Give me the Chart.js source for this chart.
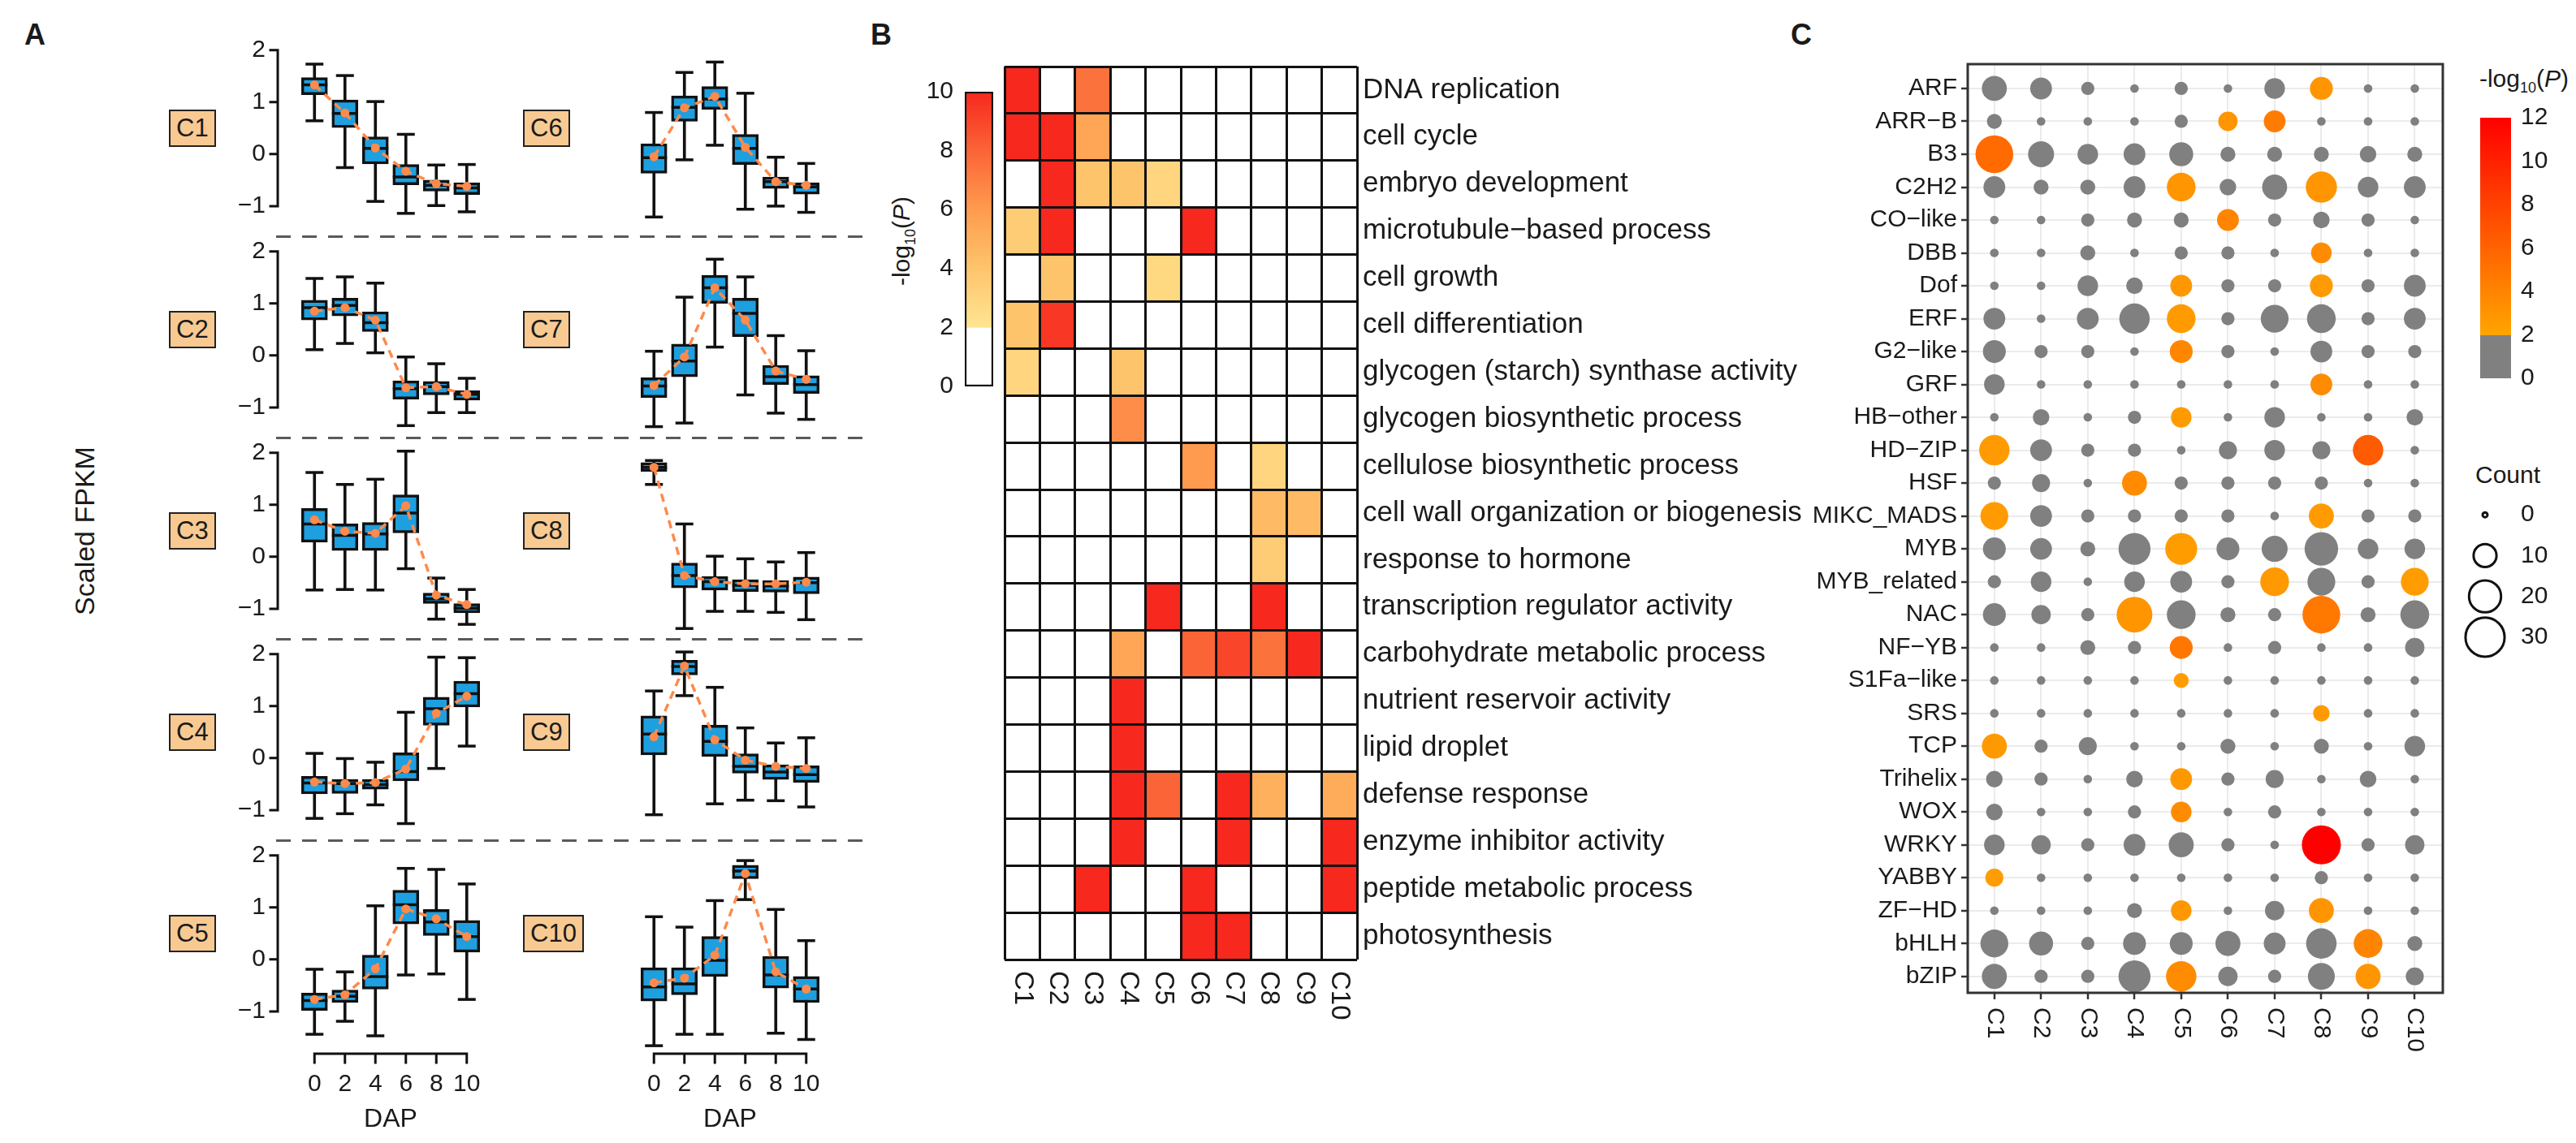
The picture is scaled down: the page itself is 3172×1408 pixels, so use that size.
<!DOCTYPE html>
<html lang="en">
<head>
<meta charset="UTF-8">
<title>Expression clusters, GO enrichment and TF families</title>
<script src="https://cdn.jsdelivr.net/npm/chart.js"></script>
<style>
  body { margin: 0; width: 3172px; height: 1408px; position: relative; overflow: hidden; background: #fff;
         font-family: "Liberation Sans", Arial, sans-serif; color: #1a1a1a; }
  canvas { position: absolute; }
  .txt { position: absolute; white-space: nowrap; }
  .panel { font-weight: bold; font-size: 36px; }
  .centre { transform: translate(-50%, -50%); }
  .vert { transform: translate(-50%, -50%) rotate(-90deg); }
  .clabel { position: absolute; transform: translateY(-50%); font-size: 31px; line-height: 36px;
            padding: 3px 7px; border: 2.5px solid #222; background: #f8ca92; }
  .dash { position: absolute; height: 3px;
          background: repeating-linear-gradient(to right, #5a5a5a 0 18px, transparent 18px 32px); }
  sub { font-size: 0.6em; }
</style>
</head>
<body>
<div class="txt panel" style="left:30px;top:22px">A</div>
<div class="txt panel" style="left:1072px;top:22px">B</div>
<div class="txt panel" style="left:2205px;top:22px">C</div>
<div class="txt vert" style="left:104px;top:654px;font-size:34px">Scaled FPKM</div>
<div class="txt vert" style="left:1112px;top:297px;font-size:30px">-log<sub>10</sub>(<i>P</i>)</div>
<div class="txt centre" style="left:3108px;top:99px;font-size:30px">-log<sub>10</sub>(<i>P</i>)</div>
<div class="txt centre" style="left:3088px;top:585px;font-size:30px">Count</div>

<script>
// ---------- panel A: scaled FPKM per cluster ----------
const dap = [0, 2, 4, 6, 8, 10];
const clusterNames = ['C1', 'C2', 'C3', 'C4', 'C5', 'C6', 'C7', 'C8', 'C9', 'C10'];
const yTickValues = [-1, 0, 1, 2];

// one row per cluster, one column per DAP
const whiskerLow = [
  [0.64, -0.26, -0.91, -1.14, -0.99, -1.11],
  [0.11, 0.23, 0.05, -1.35, -1.10, -1.10],
  [-0.64, -0.63, -0.64, -0.23, -1.20, -1.30],
  [-1.16, -1.07, -0.90, -1.26, -0.20, 0.23],
  [-1.44, -1.19, -1.47, -0.30, -0.28, -0.77],
  [-1.21, -0.11, 0.17, -1.06, -1.00, -1.12],
  [-1.37, -1.30, 0.16, -0.76, -1.11, -1.23],
  [1.39, -1.38, -1.05, -1.05, -1.07, -1.21],
  [-1.09, 1.20, -0.88, -0.81, -0.82, -0.94],
  [-1.66, -1.44, -1.44, 1.15, -1.42, -1.54]
];
const boxLow = [
  [1.14, 0.51, -0.19, -0.59, -0.71, -0.78],
  [0.68, 0.76, 0.46, -0.84, -0.76, -0.86],
  [0.28, 0.12, 0.12, 0.46, -0.90, -1.08],
  [-0.69, -0.68, -0.60, -0.44, 0.63, 0.98],
  [-0.98, -0.83, -0.57, 0.68, 0.46, 0.14],
  [-0.37, 0.63, 0.86, -0.20, -0.66, -0.77],
  [-0.81, -0.41, 1.00, 0.36, -0.56, -0.73],
  [1.64, -0.60, -0.64, -0.67, -0.68, -0.71],
  [0.06, 1.60, 0.03, -0.29, -0.41, -0.47],
  [-0.80, -0.68, -0.33, 1.55, -0.55, -0.83]
];
const boxMedian = [
  [1.33, 0.78, 0.11, -0.44, -0.60, -0.65],
  [0.92, 0.96, 0.63, -0.64, -0.60, -0.75],
  [0.63, 0.41, 0.44, 0.84, -0.81, -0.99],
  [-0.48, -0.49, -0.51, -0.26, 0.95, 1.24],
  [-0.79, -0.71, -0.33, 1.05, 0.72, 0.44],
  [-0.07, 0.90, 1.06, 0.11, -0.53, -0.63],
  [-0.59, -0.11, 1.30, 0.81, -0.41, -0.56],
  [1.72, -0.36, -0.48, -0.55, -0.56, -0.50],
  [0.46, 1.76, 0.32, -0.16, -0.27, -0.32],
  [-0.53, -0.47, -0.02, 1.70, -0.30, -0.57]
];
const boxHigh = [
  [1.47, 1.04, 0.33, -0.20, -0.50, -0.55],
  [1.06, 1.10, 0.84, -0.49, -0.50, -0.68],
  [0.93, 0.63, 0.66, 1.19, -0.70, -0.90],
  [-0.35, -0.41, -0.41, 0.10, 1.17, 1.48],
  [-0.65, -0.59, 0.08, 1.33, 0.96, 0.75],
  [0.20, 1.12, 1.30, 0.38, -0.44, -0.55],
  [-0.43, 0.22, 1.54, 1.10, -0.19, -0.39],
  [1.81, -0.12, -0.38, -0.44, -0.46, -0.39],
  [0.81, 1.88, 0.63, 0.08, -0.13, -0.15],
  [-0.16, -0.16, 0.44, 1.81, 0.06, -0.33]
];
const whiskerHigh = [
  [1.73, 1.51, 1.01, 0.38, -0.21, -0.20],
  [1.48, 1.51, 1.39, -0.03, -0.16, -0.44],
  [1.62, 1.39, 1.49, 2.03, -0.41, -0.63],
  [0.09, -0.01, -0.08, 0.88, 1.94, 1.93],
  [-0.19, -0.24, 1.03, 1.75, 1.73, 1.45],
  [0.80, 1.57, 1.77, 1.17, -0.06, -0.18],
  [0.08, 1.12, 1.85, 1.51, 0.38, 0.09],
  [1.85, 0.63, 0.01, -0.04, -0.10, 0.08],
  [1.29, 2.04, 1.36, 0.58, 0.29, 0.39],
  [0.82, 0.62, 1.13, 1.90, 0.96, 0.36]
];
const clusterMean = [
  [1.33, 0.79, 0.12, -0.33, -0.57, -0.62],
  [0.85, 0.92, 0.68, -0.62, -0.60, -0.75],
  [0.71, 0.49, 0.45, 0.98, -0.74, -0.92],
  [-0.46, -0.49, -0.47, -0.21, 0.86, 1.19],
  [-0.77, -0.68, -0.18, 0.97, 0.78, 0.44],
  [-0.05, 0.89, 1.11, 0.13, -0.53, -0.60],
  [-0.58, -0.03, 1.30, 0.68, -0.30, -0.46],
  [1.72, -0.36, -0.48, -0.52, -0.52, -0.49],
  [0.41, 1.77, 0.35, -0.04, -0.16, -0.20],
  [-0.45, -0.36, 0.08, 1.65, -0.24, -0.57]
];

// ---------- panel B: GO enrichment, -log10(P) ----------
const goTerms = [
  'DNA replication', 'cell cycle', 'embryo development', 'microtubule\u2212based process',
  'cell growth', 'cell differentiation', 'glycogen (starch) synthase activity',
  'glycogen biosynthetic process', 'cellulose biosynthetic process',
  'cell wall organization or biogenesis', 'response to hormone',
  'transcription regulator activity', 'carbohydrate metabolic process',
  'nutrient reservoir activity', 'lipid droplet', 'defense response',
  'enzyme inhibitor activity', 'peptide metabolic process', 'photosynthesis'
];
const goValues = [
  [10, 0, 7.5, 0, 0, 0, 0, 0, 0, 0],
  [10, 10, 5.5, 0, 0, 0, 0, 0, 0, 0],
  [0, 10, 4, 4, 3, 0, 0, 0, 0, 0],
  [3.5, 10, 0, 0, 0, 10, 0, 0, 0, 0],
  [0, 4, 0, 0, 2.8, 0, 0, 0, 0, 0],
  [4, 9.5, 0, 0, 0, 0, 0, 0, 0, 0],
  [3, 0, 0, 4, 0, 0, 0, 0, 0, 0],
  [0, 0, 0, 6.5, 0, 0, 0, 0, 0, 0],
  [0, 0, 0, 0, 0, 6, 0, 3, 0, 0],
  [0, 0, 0, 0, 0, 0, 0, 4.5, 4.5, 0],
  [0, 0, 0, 0, 0, 0, 0, 3.5, 0, 0],
  [0, 0, 0, 0, 10, 0, 0, 10, 0, 0],
  [0, 0, 0, 5.5, 0, 8, 9, 7.5, 10, 0],
  [0, 0, 0, 10, 0, 0, 0, 0, 0, 0],
  [0, 0, 0, 10, 0, 0, 0, 0, 0, 0],
  [0, 0, 0, 10, 8, 0, 10, 5, 0, 5.2],
  [0, 0, 0, 10, 0, 0, 10, 0, 0, 10],
  [0, 0, 10, 0, 0, 10, 0, 0, 0, 10],
  [0, 0, 0, 0, 0, 10, 10, 0, 0, 0]
];
const heatTicks = [0, 2, 4, 6, 8, 10];

// ---------- panel C: TF families ----------
const tfFamilies = [
  'ARF', 'ARR\u2212B', 'B3', 'C2H2', 'CO\u2212like', 'DBB', 'Dof', 'ERF', 'G2\u2212like', 'GRF',
  'HB\u2212other', 'HD\u2212ZIP', 'HSF', 'MIKC_MADS', 'MYB', 'MYB_related', 'NAC', 'NF\u2212YB',
  'S1Fa\u2212like', 'SRS', 'TCP', 'Trihelix', 'WOX', 'WRKY', 'YABBY', 'ZF\u2212HD', 'bHLH', 'bZIP'
];
const tfCount = [
  [12, 9, 3, 1, 3, 1, 8, 10, 1, 1],
  [4, 1, 1, 1, 3, 7, 9, 1, 1, 1],
  [28, 13, 8, 9, 11, 4, 4, 4, 5, 4],
  [9, 4, 4, 9, 16, 5, 12, 19, 8, 9],
  [1, 1, 3, 4, 4, 9, 3, 5, 3, 1],
  [1, 1, 4, 1, 3, 3, 1, 8, 1, 1],
  [1, 1, 8, 5, 9, 3, 3, 10, 3, 9],
  [9, 1, 9, 18, 16, 3, 15, 16, 3, 9],
  [10, 3, 3, 1, 10, 3, 1, 9, 3, 3],
  [8, 1, 1, 1, 1, 1, 1, 9, 1, 1],
  [1, 5, 1, 3, 8, 1, 8, 1, 1, 5],
  [18, 9, 3, 3, 1, 6, 8, 6, 18, 1],
  [3, 6, 1, 12, 3, 3, 3, 3, 1, 1],
  [15, 9, 3, 3, 3, 3, 1, 12, 3, 3],
  [10, 9, 4, 20, 20, 10, 13, 22, 8, 8],
  [3, 8, 1, 8, 9, 3, 16, 15, 3, 15],
  [10, 7, 3, 25, 16, 4, 3, 28, 4, 16],
  [1, 1, 4, 3, 10, 1, 3, 1, 1, 7],
  [1, 1, 1, 1, 4, 1, 1, 1, 1, 1],
  [1, 1, 1, 1, 1, 1, 1, 5, 1, 1],
  [12, 3, 6, 1, 1, 4, 1, 4, 1, 8],
  [5, 3, 1, 5, 9, 3, 6, 1, 5, 1],
  [5, 1, 1, 3, 8, 1, 3, 1, 1, 1],
  [8, 7, 3, 9, 12, 3, 1, 30, 3, 7],
  [6, 1, 1, 1, 1, 1, 1, 3, 1, 1],
  [1, 1, 1, 4, 8, 1, 7, 12, 1, 1],
  [15, 11, 3, 10, 10, 12, 9, 18, 16, 4],
  [12, 3, 3, 20, 18, 7, 3, 14, 12, 6]
];
const tfLogP = [
  [1, 1, 1, 1, 1, 1, 1, 3, 1, 1],
  [1, 1, 1, 1, 1, 3, 4.5, 1, 1, 1],
  [5.5, 1, 1, 1, 1, 1, 1, 1, 1, 1],
  [1, 1, 1, 1, 3, 1, 1, 3, 1, 1],
  [1, 1, 1, 1, 1, 4, 1, 1, 1, 1],
  [1, 1, 1, 1, 1, 1, 1, 3.5, 1, 1],
  [1, 1, 1, 1, 2.8, 1, 1, 2.6, 1, 1],
  [1, 1, 1, 1, 2.6, 1, 1, 1, 1, 1],
  [1, 1, 1, 1, 3.8, 1, 1, 1, 1, 1],
  [1, 1, 1, 1, 1, 1, 1, 3.6, 1, 1],
  [1, 1, 1, 1, 2.6, 1, 1, 1, 1, 1],
  [2.6, 1, 1, 1, 1, 1, 1, 1, 6.5, 1],
  [1, 1, 1, 3.5, 1, 1, 1, 1, 1, 1],
  [2.6, 1, 1, 1, 1, 1, 1, 2.6, 1, 1],
  [1, 1, 1, 1, 2.5, 1, 1, 1, 1, 1],
  [1, 1, 1, 1, 1, 1, 2.7, 1, 1, 2.5],
  [1, 1, 1, 3, 1, 1, 1, 4.7, 1, 1],
  [1, 1, 1, 1, 4.8, 1, 1, 1, 1, 1],
  [1, 1, 1, 1, 2.5, 1, 1, 1, 1, 1],
  [1, 1, 1, 1, 1, 1, 1, 2.6, 1, 1],
  [2.7, 1, 1, 1, 1, 1, 1, 1, 1, 1],
  [1, 1, 1, 1, 2.8, 1, 1, 1, 1, 1],
  [1, 1, 1, 1, 3.5, 1, 1, 1, 1, 1],
  [1, 1, 1, 1, 1, 1, 1, 12, 1, 1],
  [2.5, 1, 1, 1, 1, 1, 1, 1, 1, 1],
  [1, 1, 1, 1, 2.8, 1, 1, 3, 1, 1],
  [1, 1, 1, 1, 1, 1, 1, 1, 4, 1],
  [1, 1, 1, 1, 3.5, 1, 1, 1, 3, 1]
];
const tfTicks = [0, 2, 4, 6, 8, 10, 12];
const legendCounts = [0, 10, 20, 30];

// ---------- helpers ----------
Chart.defaults.font.family = '"Liberation Sans", Arial, sans-serif';
Chart.defaults.color = '#1a1a1a';
Chart.defaults.animation = false;
Chart.defaults.responsive = false;
Chart.defaults.events = [];
Chart.defaults.plugins.legend.display = false;
Chart.defaults.plugins.tooltip.enabled = false;

function addCanvas(left, top, width, height) {
  const c = document.createElement('canvas');
  c.width = width; c.height = height;
  c.style.left = left + 'px'; c.style.top = top + 'px';
  document.body.appendChild(c);
  return c;
}
function addDiv(cls, css, html) {
  const d = document.createElement('div');
  d.className = cls; d.style.cssText = css; d.innerHTML = html;
  document.body.appendChild(d);
}
const minus = v => (v < 0 ? '\u2212' + Math.abs(v) : String(v));

// fix an axis size and stop Chart.js from shrinking the plot to make room for end labels
function fitAxis(size) {
  return s => {
    if (s.isHorizontal()) s.height = size; else s.width = size;
    s.paddingTop = 0; s.paddingBottom = 0; s.paddingLeft = 0; s.paddingRight = 0;
  };
}

const heatStops = [[2, [255, 229, 145]], [4, [254, 196, 108]], [6, [254, 155, 78]], [8, [251, 100, 54]], [10, [247, 40, 30]]];
function heatColor(v) {
  if (v < 2) return '#ffffff';
  for (let k = 1; k < heatStops.length; k++) {
    const [v0, c0] = heatStops[k - 1], [v1, c1] = heatStops[k];
    if (v <= v1) {
      const t = (v - v0) / (v1 - v0);
      return 'rgb(' + c0.map((c, i) => Math.round(c + (c1[i] - c) * t)).join(',') + ')';
    }
  }
  return 'rgb(247,40,30)';
}
function tfColor(p) {
  if (p < 2) return '#808080';
  const t = Math.min(1, (p - 2) / 10);
  return 'rgb(255,' + Math.round(165 * (1 - t)) + ',0)';
}
const countRadius = n => Math.sqrt(9 + 19 * n);

// axis lines drawn only over the tick range, like base R axes
const baseAxes = {
  id: 'baseAxes',
  afterDraw(chart, args, opts) {
    const { ctx, chartArea, scales: { x, y } } = chart;
    ctx.save();
    ctx.strokeStyle = '#111'; ctx.lineWidth = 3; ctx.lineCap = 'square';
    ctx.beginPath();
    if (opts.y) {
      const x0 = chartArea.left - 4;
      ctx.moveTo(x0, y.getPixelForValue(2)); ctx.lineTo(x0, y.getPixelForValue(-1));
      yTickValues.forEach(v => { const py = y.getPixelForValue(v); ctx.moveTo(x0, py); ctx.lineTo(x0 - 9, py); });
    }
    if (opts.x) {
      const y0 = chartArea.bottom + 6;
      ctx.moveTo(x.getPixelForValue(0), y0); ctx.lineTo(x.getPixelForValue(10), y0);
      dap.forEach(v => { const px = x.getPixelForValue(v); ctx.moveTo(px, y0); ctx.lineTo(px, y0 + 11); });
    }
    ctx.stroke();
    ctx.restore();
  }
};

// column labels turned a quarter clockwise (read top to bottom)
const columnLabels = {
  id: 'columnLabels',
  afterDraw(chart, args, opts) {
    const { ctx, chartArea, scales: { x } } = chart;
    ctx.save();
    ctx.font = opts.size + 'px "Liberation Sans", Arial, sans-serif';
    ctx.fillStyle = '#1a1a1a'; ctx.textAlign = 'left'; ctx.textBaseline = 'middle';
    clusterNames.forEach((lab, j) => {
      ctx.save();
      ctx.translate(x.getPixelForValue(j + opts.shift), chartArea.bottom + opts.gap);
      ctx.rotate(Math.PI / 2);
      ctx.fillText(lab, 0, 0);
      ctx.restore();
    });
    ctx.restore();
  }
};

const frameBox = {
  id: 'frameBox',
  afterDraw(chart) {
    const { ctx, chartArea: a } = chart;
    ctx.save(); ctx.strokeStyle = '#333'; ctx.lineWidth = 3;
    ctx.strokeRect(a.left, a.top, a.right - a.left, a.bottom - a.top);
    ctx.restore();
  }
};

// ---------- panel A ----------
const yMin = -1.72, yMax = 2.12, yUnit = 64;
const plotH = Math.round((yMax - yMin) * yUnit);
const rowTop = k => 54 + 248 * k;          // top of plot area of row k

clusterNames.forEach((name, ci) => {
  const col = ci < 5 ? 0 : 1, row = ci % 5, bottomRow = row === 4;
  const yAxisW = col === 0 ? 70 : 0;
  const areaLeft = col === 0 ? 346 : 764;
  const areaW = col === 0 ? 270 : 270;
  const padTop = 20, padBottom = bottomRow ? 0 : 20, xAxisH = bottomRow ? 110 : 0;
  const cv = addCanvas(areaLeft - yAxisW, rowTop(row) - padTop, yAxisW + areaW + 4,
                       padTop + plotH + xAxisH + padBottom);
  const pts = arr => dap.map((d, i) => ({ x: d, y: arr[ci][i] }));

  new Chart(cv, {
    type: 'bar',
    data: {
      datasets: [
        { type: 'line', data: pts(clusterMean), borderColor: '#ff8a4c', borderWidth: 3.5, borderDash: [10, 7],
          pointRadius: 5.5, pointBackgroundColor: '#ff8a4c', pointBorderWidth: 0, order: 0, clip: false },
        { type: 'scatter', data: pts(boxMedian), pointStyle: 'line', pointRadius: 16,
          pointBorderColor: '#111', pointBorderWidth: 3.5, borderColor: '#111', borderWidth: 3.5, order: 1, clip: false },
        { type: 'scatter', data: pts(whiskerLow).concat(pts(whiskerHigh)), pointStyle: 'line', pointRadius: 11,
          pointBorderColor: '#111', pointBorderWidth: 3.5, borderColor: '#111', borderWidth: 3.5, order: 2, clip: false },
        { type: 'bar', data: dap.map((d, i) => ({ x: d, y: [boxLow[ci][i], boxHigh[ci][i]] })),
          backgroundColor: '#1e9fe0', borderColor: '#111', borderWidth: 3.5, borderSkipped: false,
          barThickness: 32, grouped: false, order: 3, clip: false },
        { type: 'bar', data: dap.map((d, i) => ({ x: d, y: [whiskerLow[ci][i], whiskerHigh[ci][i]] })),
          backgroundColor: '#111', barThickness: 3, grouped: false, order: 4, clip: false }
      ]
    },
    options: {
      layout: { padding: { top: padTop, right: 4, bottom: padBottom, left: 0 }, autoPadding: false },
      scales: {
        x: {
          type: 'linear', min: -1, max: 11, display: bottomRow,
          afterBuildTicks: s => { s.ticks = dap.map(v => ({ value: v })); },
          afterFit: fitAxis(xAxisH),
          ticks: { font: { size: 30 }, padding: 26, maxRotation: 0, autoSkip: false, color: '#1a1a1a' },
          grid: { display: false, drawTicks: false }, border: { display: false },
          title: { display: true, text: 'DAP', font: { size: 32 }, padding: { top: 6 }, color: '#1a1a1a' }
        },
        y: {
          min: yMin, max: yMax, display: col === 0,
          afterBuildTicks: s => { s.ticks = yTickValues.map(v => ({ value: v })); },
          afterFit: fitAxis(yAxisW),
          ticks: { font: { size: 30 }, padding: 19, callback: minus, color: '#1a1a1a' },
          grid: { display: false, drawTicks: false }, border: { display: false }
        }
      },
      plugins: { baseAxes: { x: bottomRow, y: col === 0 } }
    },
    plugins: [baseAxes]
  });

  addDiv('clabel', `left:${col === 0 ? 208 : 644}px;top:${rowTop(row) + (yMax - 0.5) * yUnit}px`, name);
});
[0, 1, 2, 3].forEach(k => addDiv('dash', `left:340px;width:722px;top:${rowTop(k) + 236}px`, ''));

// ---------- panel B: heatmap ----------
new Chart(addCanvas(1227, 72, 10 + 434 + 650, 10 + 1100 + 90), {
  type: 'bar',
  data: {
    labels: goTerms,
    datasets: clusterNames.map((c, j) => ({
      label: c,
      data: goTerms.map(() => [j, j + 1]),
      backgroundColor: goTerms.map((t, i) => heatColor(goValues[i][j])),
      borderWidth: 0, grouped: false, categoryPercentage: 1, barPercentage: 1
    }))
  },
  options: {
    indexAxis: 'y',
    layout: { padding: { top: 10, left: 10, right: 0, bottom: 0 }, autoPadding: false },
    scales: {
      x: {
        type: 'linear', min: 0, max: 10,
        ticks: { display: false, stepSize: 1 },
        afterFit: fitAxis(90),
        grid: { color: '#111', lineWidth: 3, drawTicks: false, z: 1 }, border: { display: false }
      },
      y: {
        position: 'right', offset: true,
        afterFit: fitAxis(650),
        ticks: { font: { size: 35 }, padding: 7, color: '#1a1a1a', autoSkip: false },
        grid: { color: '#111', lineWidth: 3, drawTicks: false, offset: true, z: 1 }, border: { display: false }
      }
    },
    plugins: { columnLabels: { size: 33, shift: 0.5, gap: 14 } }
  },
  plugins: [columnLabels]
});

// colour key for panel B
new Chart(addCanvas(1128, 93, 60 + 35 + 4, 20 + 363 + 20), {
  type: 'bar',
  data: {
    labels: [''],
    datasets: [{
      data: [[0, 10]], borderColor: '#111', borderWidth: 2.5, borderSkipped: false,
      categoryPercentage: 1, barPercentage: 1,
      backgroundColor(ctx) {
        const chart = ctx.chart;
        if (!chart.chartArea) return null;
        const y = chart.scales.y;
        const g = chart.ctx.createLinearGradient(0, y.getPixelForValue(0), 0, y.getPixelForValue(10));
        g.addColorStop(0, '#ffffff'); g.addColorStop(0.199, '#ffffff');
        heatStops.forEach(([v, c]) => g.addColorStop(v / 10, 'rgb(' + c.join(',') + ')'));
        return g;
      }
    }]
  },
  options: {
    layout: { padding: { top: 20, bottom: 20, right: 4 }, autoPadding: false },
    scales: {
      x: { display: false },
      y: {
        min: 0, max: 10,
        afterBuildTicks: s => { s.ticks = heatTicks.map(v => ({ value: v })); },
        afterFit: fitAxis(60),
        ticks: { font: { size: 30 }, padding: 14, color: '#1a1a1a' },
        grid: { display: false, drawTicks: false }, border: { display: false }
      }
    }
  }
});

// ---------- panel C: bubbles ----------
const bubblePoints = [];
tfFamilies.forEach((f, i) => clusterNames.forEach((c, j) => {
  bubblePoints.push({ x: j, y: i, r: countRadius(tfCount[i][j]), p: tfLogP[i][j] });
}));

new Chart(addCanvas(2223, 67, 200 + 585 + 8, 12 + 1144 + 80), {
  type: 'bubble',
  data: {
    datasets: [{
      data: bubblePoints,
      backgroundColor: ctx => tfColor(ctx.raw.p),
      borderWidth: 0
    }]
  },
  options: {
    layout: { padding: { top: 12, right: 8, left: 0, bottom: 0 }, autoPadding: false },
    scales: {
      x: {
        type: 'linear', min: -0.57, max: 9.6,
        afterBuildTicks: s => { s.ticks = clusterNames.map((c, j) => ({ value: j })); },
        afterFit: fitAxis(80),
        ticks: { display: false },
        grid: { color: '#ebebeb', lineWidth: 2, tickColor: '#333', tickLength: 8, tickWidth: 2.5 },
        border: { display: false }
      },
      y: {
        type: 'linear', min: -0.74, max: 27.5, reverse: true,
        afterBuildTicks: s => { s.ticks = tfFamilies.map((f, i) => ({ value: i })); },
        afterFit: fitAxis(200),
        ticks: { font: { size: 30 }, padding: 5, color: '#1a1a1a', callback: v => tfFamilies[v] },
        grid: { color: '#ebebeb', lineWidth: 2, tickColor: '#333', tickLength: 8, tickWidth: 2.5 },
        border: { display: false }
      }
    },
    plugins: { columnLabels: { size: 30, shift: 0, gap: 18 } }
  },
  plugins: [frameBox, columnLabels]
});

// colour key for panel C
new Chart(addCanvas(3050, 125, 4 + 38 + 60, 20 + 321 + 20), {
  type: 'bar',
  data: {
    labels: [''],
    datasets: [{
      data: [[0, 12]], borderWidth: 0, categoryPercentage: 1, barPercentage: 1,
      backgroundColor(ctx) {
        const chart = ctx.chart;
        if (!chart.chartArea) return null;
        const y = chart.scales.y;
        const g = chart.ctx.createLinearGradient(0, y.getPixelForValue(0), 0, y.getPixelForValue(12));
        g.addColorStop(0, '#808080'); g.addColorStop(2 / 12 - 0.001, '#808080');
        g.addColorStop(2 / 12, tfColor(2)); g.addColorStop(1, tfColor(12));
        return g;
      }
    }]
  },
  options: {
    layout: { padding: { top: 20, bottom: 20, left: 4 }, autoPadding: false },
    scales: {
      x: { display: false },
      y: {
        position: 'right', min: 0, max: 12,
        afterBuildTicks: s => { s.ticks = tfTicks.map(v => ({ value: v })); },
        afterFit: fitAxis(60),
        ticks: { font: { size: 30 }, padding: 12, color: '#1a1a1a' },
        grid: { display: false, drawTicks: false }, border: { display: false }
      }
    }
  }
});

// size key for panel C
new Chart(addCanvas(3030, 589, 5 + 50 + 60, 20 + 201 + 20), {
  type: 'bubble',
  data: {
    datasets: [{
      data: legendCounts.map((n, i) => ({ x: 0, y: i, r: countRadius(n) })),
      backgroundColor: 'rgba(0,0,0,0)', borderColor: '#111', borderWidth: 3, clip: false
    }]
  },
  options: {
    layout: { padding: { left: 5, top: 20, bottom: 20 }, autoPadding: false },
    scales: {
      x: { display: false, min: -1, max: 1 },
      y: {
        position: 'right', min: -0.5, max: 3.5, reverse: true,
        afterBuildTicks: s => { s.ticks = legendCounts.map((n, i) => ({ value: i })); },
        afterFit: fitAxis(60),
        ticks: { font: { size: 30 }, padding: 19, color: '#1a1a1a', callback: v => legendCounts[v] },
        grid: { display: false, drawTicks: false }, border: { display: false }
      }
    }
  }
});
</script>
</body>
</html>
